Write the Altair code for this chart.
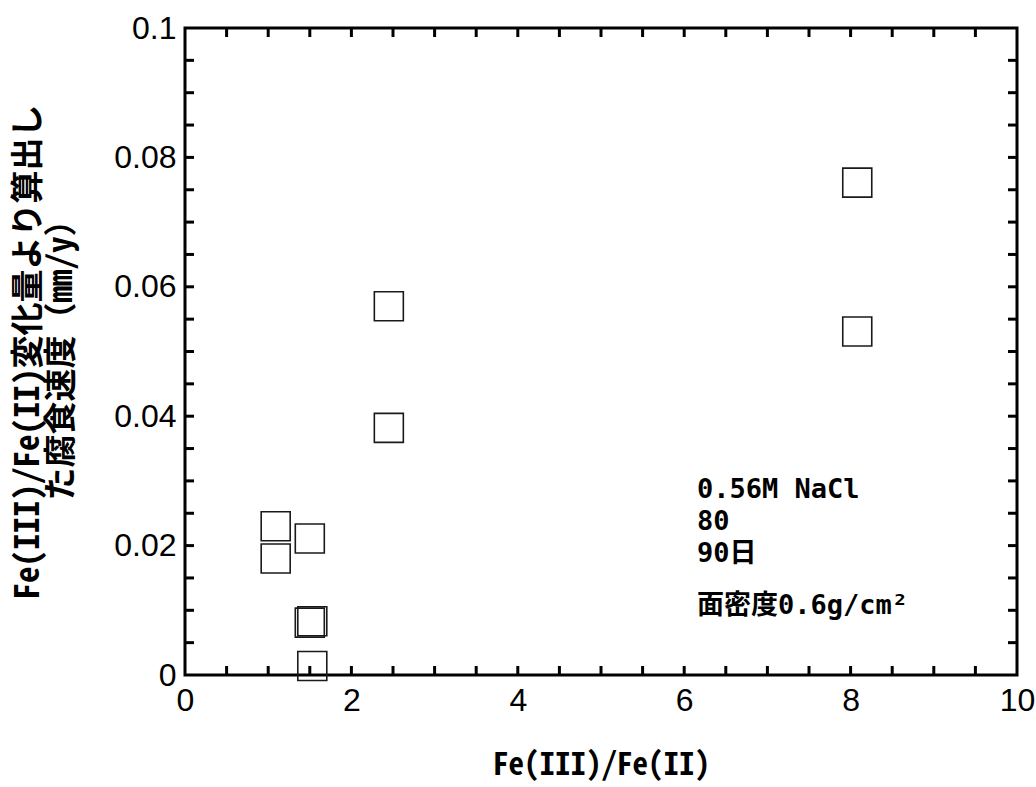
import altair as alt
import pandas as pd

# data
x_vals = [1.09, 1.09, 1.50, 1.50, 1.53, 1.53, 2.45, 2.45, 8.08, 8.08]
y_vals = [0.0230, 0.0180, 0.0211, 0.0081, 0.0083, 0.0014, 0.0570, 0.0382, 0.0761, 0.0531]

x_ticks = [i * 0.5 for i in range(1, 20)]
y_ticks = [i * 0.005 for i in range(1, 20)]
x_label_vals = [0, 2, 4, 6, 8, 10]
y_label_vals = [0, 0.02, 0.04, 0.06, 0.08, 0.1]

note_lines = ["0.56M NaCl", "80", "90日"]
note_last = "面密度0.6g/cm²"

W, H = 832, 647
mono = "Noto Sans Mono CJK JP, DejaVu Sans Mono, Noto Sans CJK JP"
note_font = "DejaVu Sans Mono, Noto Sans Mono CJK JP, Noto Sans CJK JP"

pts = pd.DataFrame({"x": x_vals, "y": y_vals})
xt = pd.DataFrame({"v": x_ticks})
yt = pd.DataFrame({"v": y_ticks})

xscale = alt.Scale(domain=[0, 10], nice=False, zero=False)
yscale = alt.Scale(domain=[0, 0.1], nice=False, zero=False)

x_axis = alt.Axis(
    values=x_label_vals, format="~g", domain=False, ticks=False, grid=False,
    labelFont="Liberation Sans", labelFontSize=32, labelFontWeight="normal",
    labelColor="black", labelPadding=10, labelFlush=False,
    title="Fe(III)/Fe(II)", titleFont=mono, titleFontSize=31, titleFontWeight="bold",
    titleColor="black", titlePadding=34,
)
y_axis = alt.Axis(
    values=y_label_vals, format="~g", domain=False, ticks=False, grid=False,
    labelFont="Liberation Sans", labelFontSize=32, labelFontWeight="normal",
    labelColor="black", labelPadding=9, labelFlush=False,
    title=["Fe(III)/Fe(II)変化量より算出し", "た腐食速度（mm/y）"],
    titleFont=mono, titleFontSize=33, titleFontWeight="bold", titleColor="black",
    titlePadding=35, titleLineHeight=33,
)

points = alt.Chart(pts).mark_point(
    shape="square", filled=False, size=841, stroke="#1a1a1a", strokeWidth=1.6, opacity=1
).encode(
    x=alt.X("x:Q", scale=xscale, axis=x_axis),
    y=alt.Y("y:Q", scale=yscale, axis=y_axis),
)

tick_style = dict(color="black", strokeWidth=3)
xb = alt.Chart(xt).mark_rule(**tick_style).encode(
    x=alt.X("v:Q", scale=xscale), y=alt.value(H), y2=alt.value(H - 9))
xtop = alt.Chart(xt).mark_rule(**tick_style).encode(
    x=alt.X("v:Q", scale=xscale), y=alt.value(0), y2=alt.value(9))
yl = alt.Chart(yt).mark_rule(**tick_style).encode(
    y=alt.Y("v:Q", scale=yscale), x=alt.value(0), x2=alt.value(9))
yr = alt.Chart(yt).mark_rule(**tick_style).encode(
    y=alt.Y("v:Q", scale=yscale), x=alt.value(W), x2=alt.value(W - 9))

text_style = dict(align="left", baseline="middle", font=note_font, fontWeight="bold", color="black")
block = alt.Chart(pd.DataFrame({"k": [0]})).mark_text(
    fontSize=27, lineHeight=32, **text_style
).encode(text=alt.value(note_lines), x=alt.value(512), y=alt.value(462))
last = alt.Chart(pd.DataFrame({"k": [0]})).mark_text(
    fontSize=27, **text_style
).encode(text=alt.value(note_last), x=alt.value(512), y=alt.value(578))

chart = alt.layer(xb, xtop, yl, yr, points, block, last).properties(
    width=W, height=H,
    autosize=alt.AutoSizeParams(type="none"),
    padding={"left": 185, "top": 28, "right": 19, "bottom": 112},
    background="white",
).configure_view(stroke="black", strokeWidth=3)

chart.save("out.html", embed_options={"renderer": "svg", "actions": False})
